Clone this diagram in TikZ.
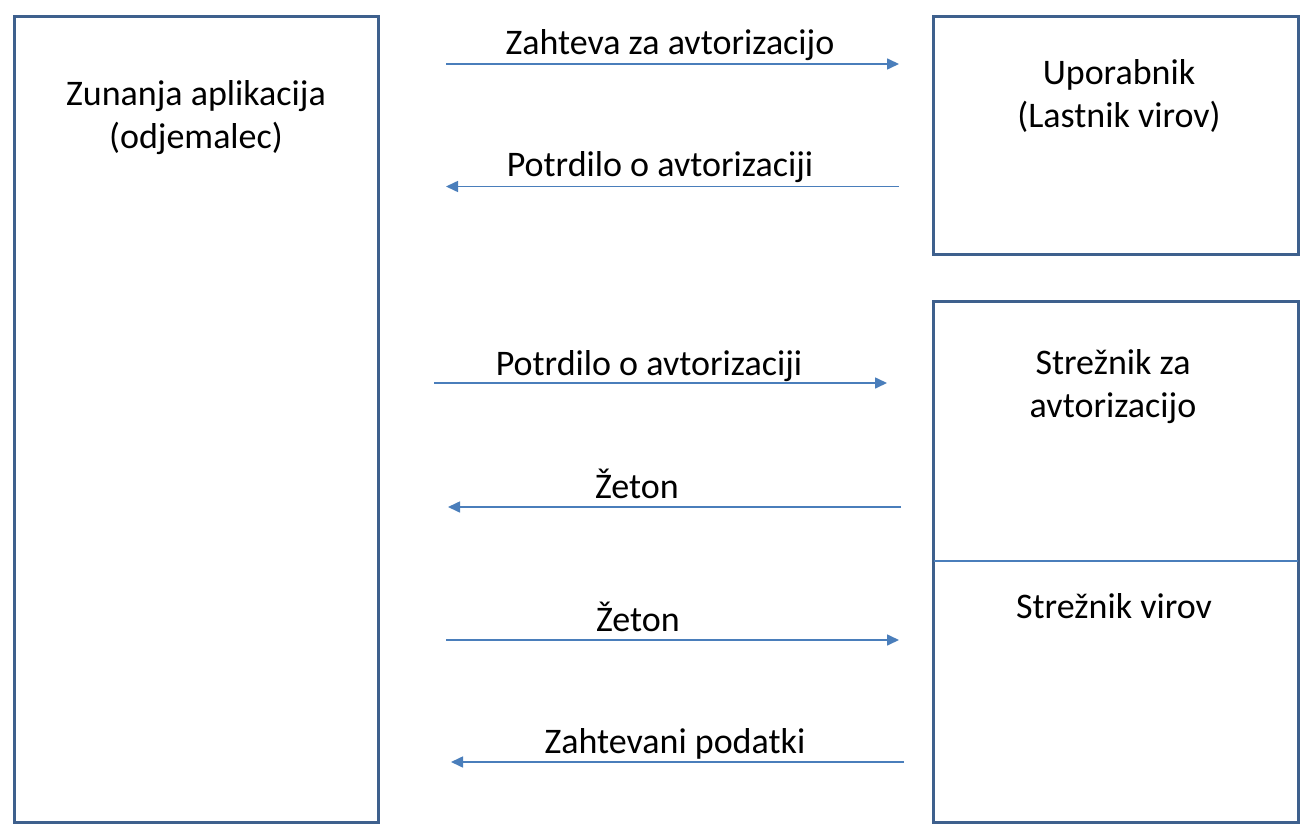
\documentclass[tikz,border=0pt]{standalone}
\usepackage{fontspec}
\setmainfont{Carlito}
\usepackage{tikz}
\usetikzlibrary{arrows.meta,positioning}

\begin{document}
\begin{tikzpicture}[
    x=1pt, y=-1pt,
    every node/.style={
        font=\fontsize{36}{43}\selectfont
    },
    panel/.style={
        draw=framecolor,
        line width=3pt,
        rectangle,
        fill=white,
        anchor=north west,
        inner sep=0pt,
        outer sep=0pt
    },
    label/.style={
        align=center,
        inner sep=0pt,
        anchor=base
    },
    arrow/.style={-{Triangle[length=12pt, width=11pt]}, line width=1.6pt, draw=arrowcolor},
    divider/.style={draw=arrowcolor, line width=1.3pt}
]

%--- Color Definitions ---%
\definecolor{framecolor}{RGB}{62,96,141}
\definecolor{arrowcolor}{RGB}{74,126,187}

\useasboundingbox (0,0) rectangle (1314,837);

%-----------------------------------------------
% LEFT: Client application
%-----------------------------------------------
\node[panel, minimum width=363.5pt, minimum height=805pt]
    (client) at (14.5,17) {};
% (base = baseline of the last line)
\node[label] (clientname) at (196,149) {Zunanja aplikacija\\(odjemalec)};

%-----------------------------------------------
% RIGHT: Resource owner
%-----------------------------------------------
\node[panel, minimum width=364.5pt, minimum height=237pt]
    (owner) at (933.5,17) {};
\node[label] (ownername) at (1119,128) {Uporabnik\\(Lastnik virov)};

%-----------------------------------------------
% RIGHT: Authorization + resource server
%-----------------------------------------------
\node[panel, minimum width=364.5pt, minimum height=521pt]
    (server) at (933.5,301) {};
\coordinate (split) at (933.5,561);
\draw[divider] (split) -- (split -| server.east);
\node[label] (authname) at (1113,417) {Strežnik za\\avtorizacijo};
\node[label] (resname) at (1114,618) {Strežnik virov};

%-----------------------------------------------
% MESSAGES
%-----------------------------------------------
\coordinate (reqA)  at (446,64);   \coordinate (reqB)  at (899,64);
\coordinate (ackA)  at (899,186.5);\coordinate (ackB)  at (446,186.5);
\coordinate (fwdA)  at (434,383);  \coordinate (fwdB)  at (887,383);
\coordinate (tokA)  at (901,507);  \coordinate (tokB)  at (448,507);
\coordinate (useA)  at (446,640);  \coordinate (useB)  at (899,640);
\coordinate (dataA) at (904,762);  \coordinate (dataB) at (451,762);

\draw[arrow] (reqA)  -- (reqB);
\draw[arrow] (ackA)  -- (ackB);
\draw[arrow] (fwdA)  -- (fwdB);
\draw[arrow] (tokA)  -- (tokB);
\draw[arrow] (useA)  -- (useB);
\draw[arrow] (dataA) -- (dataB);

\node[label] (reqtext)  at (670,55)  {Zahteva za avtorizacijo};
\node[label] (acktext)  at (660,177) {Potrdilo o avtorizaciji};
\node[label] (fwdtext)  at (649,375) {Potrdilo o avtorizaciji};
\node[label] (toktext)  at (637,498) {Žeton};
\node[label] (usetext)  at (638,631) {Žeton};
\node[label] (datatext) at (675,753) {Zahtevani podatki};

\end{tikzpicture}
\end{document}
